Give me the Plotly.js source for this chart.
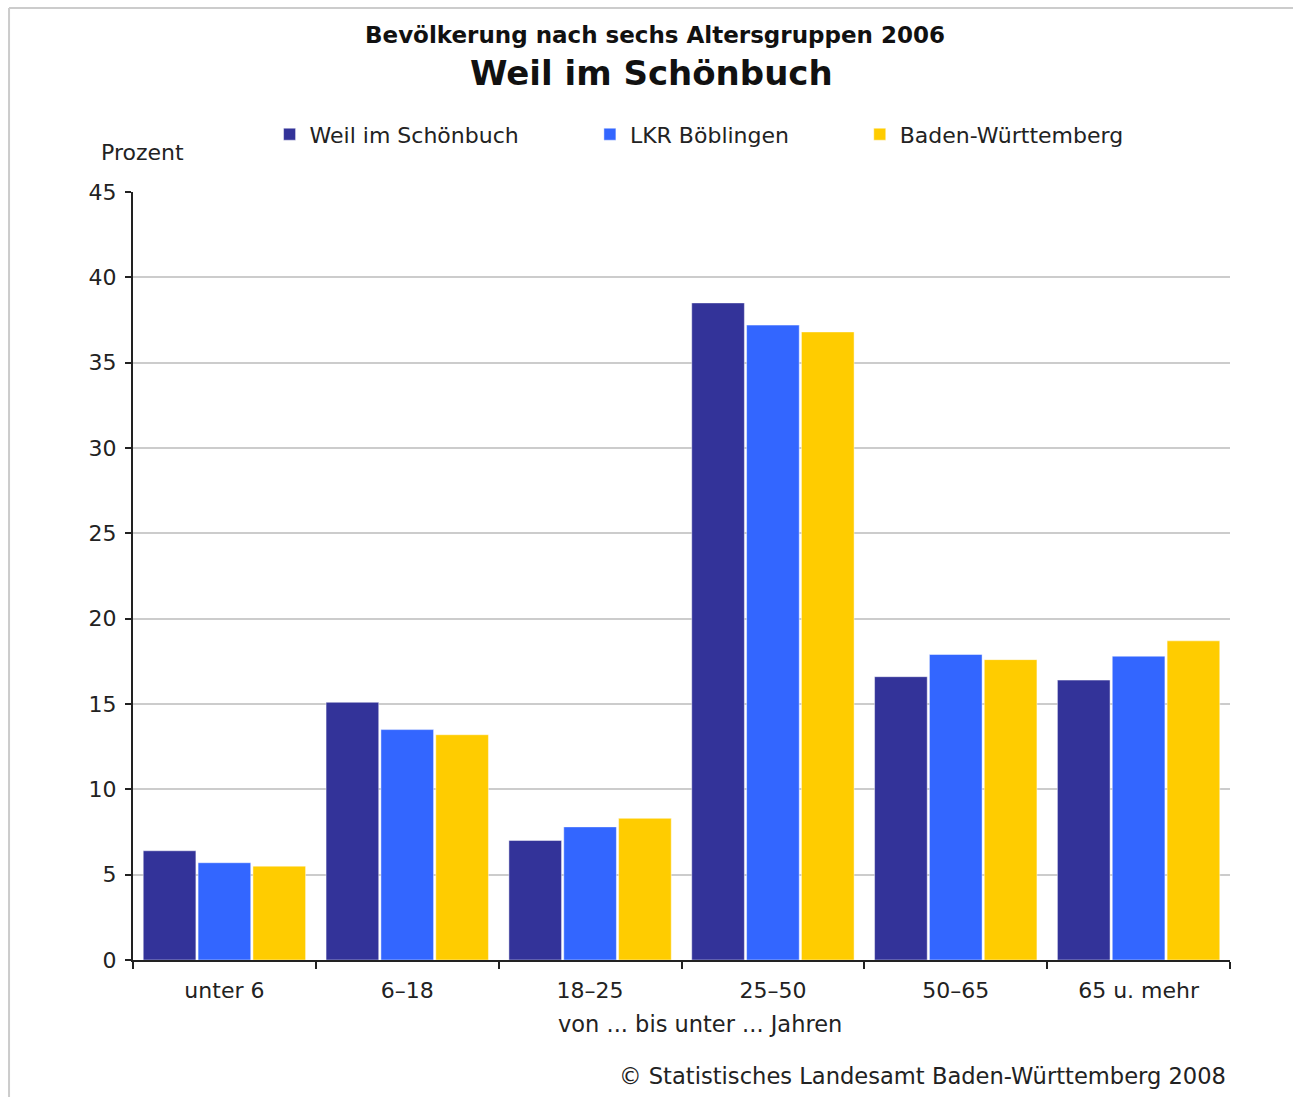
<!DOCTYPE html>
<html>
<head>
<meta charset="utf-8">
<script src="https://cdn.plot.ly/plotly-3.0.1.min.js"></script>
<style>
html,body{margin:0;padding:0;background:#fff;}
#chart{width:1293px;height:1097px;}
</style>
</head>
<body>
<div id="chart"></div>
<script>
const categories = ["unter 6", "6–18", "18–25", "25–50", "50–65", "65 u. mehr"];
const weil = [6.4, 15.1, 7.0, 38.5, 16.6, 16.4];
const lkr = [5.7, 13.5, 7.8, 37.2, 17.9, 17.8];
const bw = [5.5, 13.2, 8.3, 36.8, 17.6, 18.7];
const seriesNames = ["Weil im Schönbuch", "LKR Böblingen", "Baden-Württemberg"];
const colors = ["#333399", "#3366FF", "#FFCC00"];
const titleTop = "Bevölkerung nach sechs Altersgruppen 2006";
const titleMain = "Weil im Schönbuch";
const yLabel = "Prozent";
const xLabel = "von ... bis unter ... Jahren";
const source = "© Statistisches Landesamt Baden-Württemberg 2008";

const FONT = "DejaVu Sans, Verdana, sans-serif";
const TXT = "#222";
const FS = 22;
const vals = [weil, lkr, bw];
const legendIds = ["legend", "legend2", "legend3"];
const traces = vals.map((v, i) => ({
  type: "bar",
  x: categories,
  y: v,
  name: seriesNames[i],
  legend: legendIds[i],
  showlegend: true,
  marker: {color: colors[i], line: {color: "rgba(255,255,255,0.45)", width: 1}},
  hoverinfo: "x+y+name"
}));

const legendBase = {
  orientation: "h", yanchor: "middle", y: 1.075, xanchor: "left",
  font: {family: FONT, size: FS, color: TXT}, bgcolor: "rgba(0,0,0,0)"
};

const layout = {
  width: 1293, height: 1097,
  margin: {l: 133, r: 63, t: 192, b: 137},
  paper_bgcolor: "#fff", plot_bgcolor: "#fff",
  showlegend: true,
  barmode: "group", bargap: 0.1, bargroupgap: 0.04,
  font: {family: FONT, size: FS, color: TXT},
  legend: Object.assign({}, legendBase, {x: 0.1245}),
  legend2: Object.assign({}, legendBase, {x: 0.4165}),
  legend3: Object.assign({}, legendBase, {x: 0.6625}),
  xaxis: {
    type: "category", showline: true, linecolor: "#222", linewidth: 2,
    ticks: "outside", tickson: "boundaries", ticklen: 7, tickcolor: "#222", tickwidth: 2,
    ticklabelstandoff: 10,
    showgrid: false, tickfont: {family: FONT, size: FS, color: TXT}
  },
  yaxis: {
    range: [0, 45], dtick: 5, showline: true, linecolor: "#222", linewidth: 2,
    ticks: "outside", ticklen: 6, tickcolor: "#222", tickwidth: 2,
    ticklabelstandoff: 4,
    showgrid: true, gridcolor: "#cccccc", gridwidth: 2, zeroline: false,
    tickfont: {family: FONT, size: FS, color: TXT}
  },
  annotations: [
    {text: "<b>" + titleTop + "</b>", xref: "paper", yref: "paper", x: 0.4758, y: 1.2044,
     xanchor: "center", yanchor: "middle", showarrow: false, font: {family: FONT, size: 23, color: "#111"}},
    {text: "<b>" + titleMain + "</b>", xref: "paper", yref: "paper", x: 0.473, y: 1.155,
     xanchor: "center", yanchor: "middle", showarrow: false, font: {family: FONT, size: 34, color: "#111"}},
    {text: yLabel, xref: "paper", yref: "paper", x: 0.0091, y: 1.0508,
     xanchor: "center", yanchor: "middle", showarrow: false, font: {family: FONT, size: FS, color: TXT}},
    {text: xLabel, xref: "paper", yref: "paper", x: 0.5169, y: -0.0833,
     xanchor: "center", yanchor: "middle", showarrow: false, font: {family: FONT, size: 22.5, color: TXT}},
    {text: source, xref: "paper", yref: "paper", x: 0.9981, y: -0.151,
     xanchor: "right", yanchor: "middle", showarrow: false, font: {family: FONT, size: 22.6, color: TXT}}
  ],
  shapes: [
    {type: "line", xref: "paper", yref: "paper", x0: -0.113, x1: 1.06, y0: 1.2396, y1: 1.2396,
     line: {color: "#cccccc", width: 2}},
    {type: "line", xref: "paper", yref: "paper", x0: -0.113, x1: -0.113, y0: 1.2396, y1: -0.18,
     line: {color: "#cccccc", width: 2}}
  ]
};

Plotly.newPlot("chart", traces, layout, {displayModeBar: false, responsive: false});
</script>
</body>
</html>
